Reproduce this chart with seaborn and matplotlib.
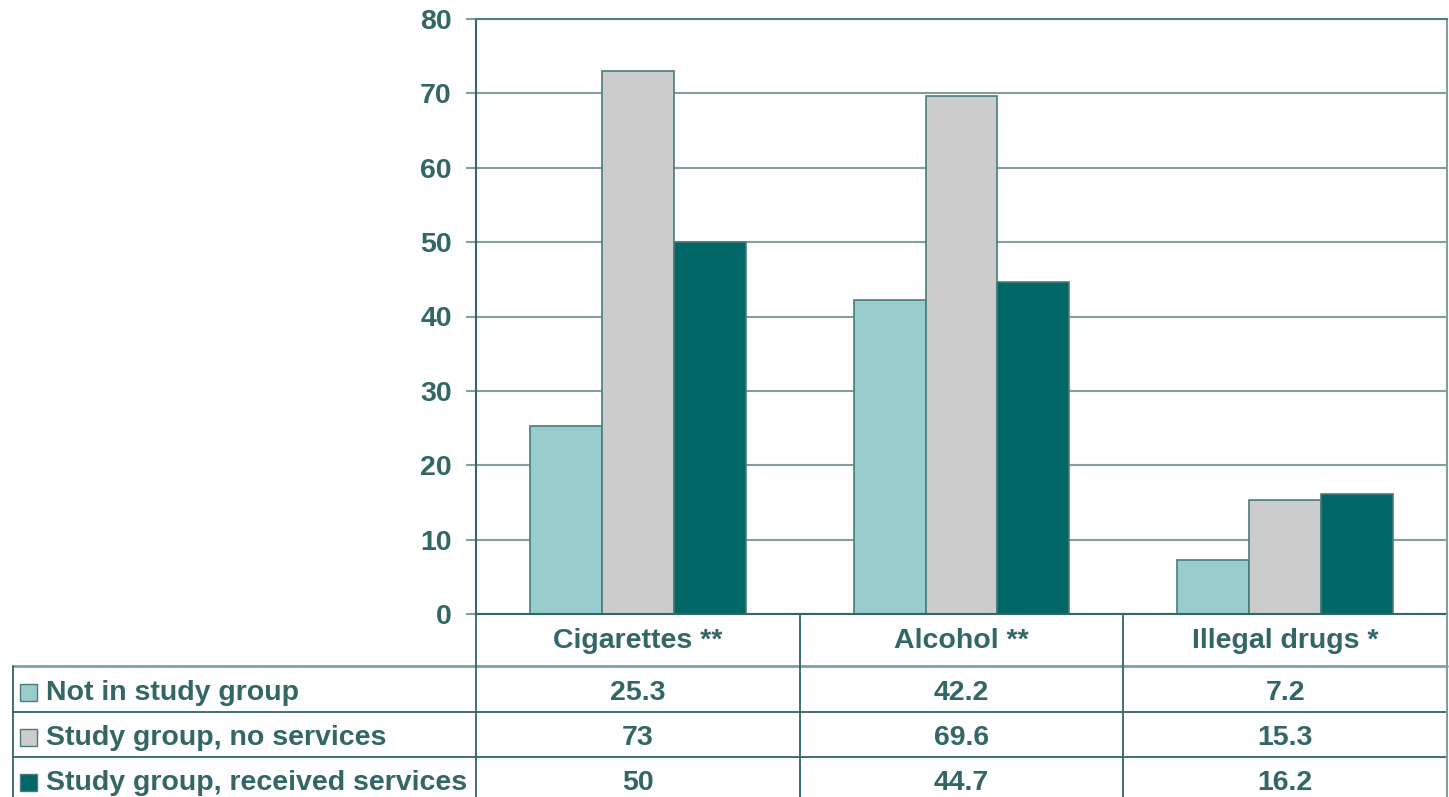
import matplotlib
matplotlib.use("Agg")
import matplotlib.pyplot as plt
import matplotlib.transforms as mtransforms
from matplotlib.lines import Line2D
from matplotlib.patches import Rectangle
import seaborn as sns
import pandas as pd

categories = ["Cigarettes **", "Alcohol **", "Illegal drugs *"]
groups = ["Not in study group", "Study group, no services", "Study group, received services"]
not_in_study = [25.3, 42.2, 7.2]
study_no_services = [73, 69.6, 15.3]
study_received = [50, 44.7, 16.2]
value_labels = [["25.3", "42.2", "7.2"], ["73", "69.6", "15.3"], ["50", "44.7", "16.2"]]
yticks = [0, 10, 20, 30, 40, 50, 60, 70, 80]

colors = ["#99CCCC", "#CCCCCC", "#006666"]
text_color = "#336666"
grid_color = "#80A0A0"
edge_color = "#4A7C7C"
dark_line = "#336666"
FS = 20.5

sns.set_style("white")
plt.rcParams['font.family'] = ['Liberation Sans', 'DejaVu Sans']
plt.rcParams['font.weight'] = 'bold'

W, H = 1449, 797
fig = plt.figure(figsize=(W / 100, H / 100), dpi=100)
ax = fig.add_axes([476 / W, 1 - 614 / H, (1447 - 476) / W, (614 - 19) / H])

rows = []
for gi, (g, vals) in enumerate(zip(groups, [not_in_study, study_no_services, study_received])):
    for c, v in zip(categories, vals):
        rows.append({"category": c, "group": g, "value": v})
df = pd.DataFrame(rows)

sns.barplot(data=df, x="category", y="value", hue="group", order=categories,
            hue_order=groups, palette=colors, width=0.667, gap=0,
            edgecolor=edge_color, linewidth=1.2, saturation=1, ax=ax,
            legend=False, errorbar=None)

ax.set_xlim(-0.5, 2.5)
ax.set_ylim(0, 80)
ax.set_yticks(yticks)
ax.set_yticklabels([str(t) for t in yticks], fontsize=FS, fontweight='bold', color=text_color)
ax.tick_params(axis='y', length=7.5, width=1.5, color=grid_color, pad=10, left=True)
ax.tick_params(axis='x', length=0, labelbottom=False)
ax.set_xlabel("")
ax.set_ylabel("")
ax.set_axisbelow(True)
ax.grid(axis='y', color=grid_color, linewidth=1.5)
ax.grid(axis='x', visible=False)
for side in ["left", "bottom", "top", "right"]:
    ax.spines[side].set_visible(True)
    ax.spines[side].set_linewidth(1.5)
ax.spines["left"].set_color(dark_line)
ax.spines["bottom"].set_color(dark_line)
ax.spines["top"].set_color("#4D7F7F")
ax.spines["right"].set_color(grid_color)

# ---- data table below the chart ----
def fy(py):
    return 1 - py / H

def fx(px):
    return px / W

tx = mtransforms.blended_transform_factory(ax.transData, fig.transFigure)
tf = fig.transFigure

header_mid, row_mids = 641, [693, 738, 783]
header_bot, row_lines = 666, [712, 757]
table_left = 13

# horizontal lines
fig.add_artist(Line2D([fx(table_left), fx(1447)], [fy(header_bot)] * 2, color=grid_color, lw=2.0, transform=tf))
for yl in row_lines:
    fig.add_artist(Line2D([fx(table_left), fx(1447)], [fy(yl)] * 2, color=dark_line, lw=1.3, transform=tf))
# vertical lines
fig.add_artist(Line2D([fx(table_left)] * 2, [fy(header_bot), fy(797)], color=dark_line, lw=1.3, transform=tf))
for xb in [-0.5, 0.5, 1.5]:
    fig.add_artist(Line2D([xb, xb], [fy(614), fy(797)], color=dark_line, lw=1.3, transform=tx))
fig.add_artist(Line2D([2.5, 2.5], [fy(614), fy(797)], color=grid_color, lw=1.5, transform=tx))

# header labels
for i, c in enumerate(categories):
    fig.text(i, fy(header_mid), c, transform=tx, ha='center', va='center',
             fontsize=FS, fontweight='bold', color=text_color)

# rows
for r, (g, col) in enumerate(zip(groups, colors)):
    ym = row_mids[r]
    fig.add_artist(Rectangle((fx(20), fy(ym + 8)), 17 / W, 17 / H, transform=tf,
                             facecolor=col, edgecolor=edge_color, lw=1.0))
    fig.text(fx(46), fy(ym), g, transform=tf, ha='left', va='center',
             fontsize=FS, fontweight='bold', color=text_color)
    for i in range(len(categories)):
        fig.text(i, fy(ym), value_labels[r][i], transform=tx, ha='center', va='center',
                 fontsize=FS, fontweight='bold', color=text_color)

fig.savefig("out.png", dpi=100)
